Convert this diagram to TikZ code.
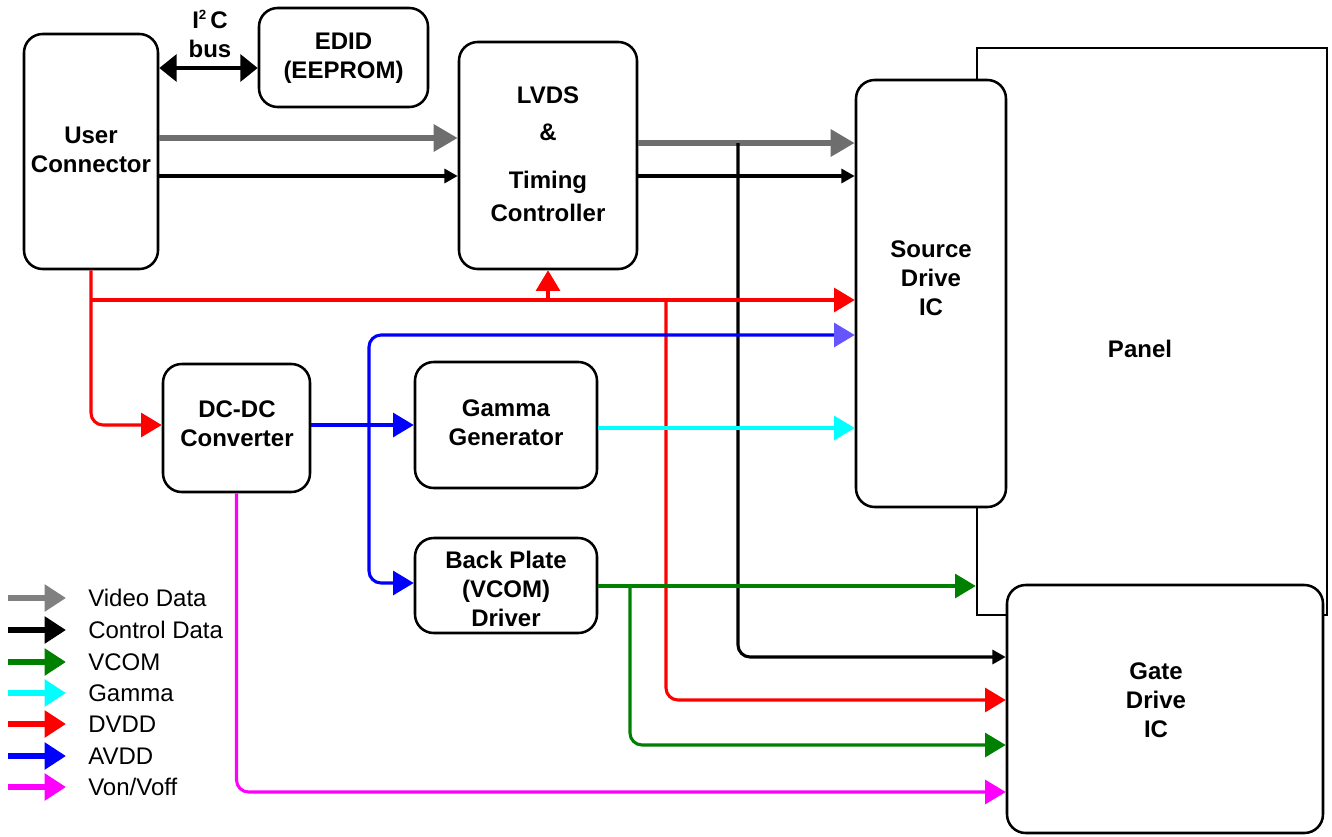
\documentclass[tikz,border=0pt]{standalone}
\usepackage{fontspec}
\setmainfont{Liberation Sans}
\usetikzlibrary{arrows.meta}
\definecolor{vgray}{RGB}{110,110,110}
\definecolor{lgray}{RGB}{128,128,128}
\definecolor{vgreen}{RGB}{0,128,0}
\definecolor{ablue}{RGB}{0,0,255}
\definecolor{srcblue}{RGB}{102,85,255}
\definecolor{vred}{RGB}{255,0,0}
\definecolor{vcyan}{RGB}{0,255,255}
\definecolor{vmag}{RGB}{255,0,255}
\begin{document}
\begin{tikzpicture}[x=0.75pt,y=-0.75pt,
 box/.style={draw, line width=1.9pt, rounded corners=14pt, fill=white, inner sep=0pt},
 lbl/.style={font=\bfseries\fontsize{18}{21.75}\selectfont, align=center, inner sep=0pt},
 lgt/.style={font=\fontsize{18}{21.75}\selectfont, anchor=base west, inner sep=0pt},
 wire/.style={line width=2.3pt, rounded corners=9pt, -{Triangle[length=15.5pt,width=18pt]}},
 ctrl/.style={line width=2.3pt, rounded corners=9pt, -{Triangle[length=10pt,width=10.5pt]}},
 video/.style={line width=4.5pt, draw=vgray, -{Triangle[length=18pt,width=19.5pt]}},
 legarrow/.style={line width=4.5pt, -{Triangle[length=16pt,width=19.5pt]}},
]
\useasboundingbox (0,0) rectangle (1332,836);

% Boxes
\node[box, sharp corners, minimum width=262.5pt, minimum height=425.25pt] (panel) at (1152,331.5) {};
\node[lbl] (panelT) at (1140,349) {Panel};
\node[box, minimum width=112.5pt, minimum height=320.25pt] (src) at (931,293.5) {};
\node[lbl] (srcT) at (931,278) {Source\\Drive\\IC};
\node[box, minimum width=237pt, minimum height=186pt] (gate) at (1165,709) {};
\node[lbl] (gateT) at (1156,700) {Gate\\Drive\\IC};
\node[box, minimum width=100.5pt, minimum height=176.25pt] (uc) at (91,151.5) {};
\node[lbl] (ucT) at (91,150) {User\\Connector};
\node[box, minimum width=126.75pt, minimum height=74.25pt] (edid) at (343.5,57.5) {};
\node[lbl] (edidT) at (343.5,58) {EDID\\(EEPROM)};
\node[box, minimum width=133.5pt, minimum height=170.25pt] (lvds) at (548,155.5) {};
\node[lbl] (lvdsT) at (548,154.5) {LVDS\\[6pt]\&\\[14pt]Timing\\[3pt]Controller};
\node[box, minimum width=110.25pt, minimum height=96pt] (dcdc) at (236.5,428) {};
\node[lbl] (dcdcT) at (237,423.5) {DC-DC\\Converter};
\node[box, minimum width=136.5pt, minimum height=94.5pt] (gamma) at (506,425) {};
\node[lbl] (gammaT) at (506,422.5) {Gamma\\Generator};
\node[box, minimum width=136.5pt, minimum height=71.25pt] (bp) at (506,585.5) {};
\node[lbl] (bpT) at (506,589) {Back Plate\\(VCOM)\\Driver};
\node[lbl] (i2c) at (210,34) {I\raisebox{0.35em}{\fontsize{10}{12}\selectfont 2}\,C\\bus};

% I2C bus
\draw[line width=3pt, {Triangle[length=13pt,width=20pt]}-{Triangle[length=13pt,width=20pt]}]
  (uc.east |- 0,68) -- (edid.west |- 0,68);

% video / control
\draw[video] (uc.east |- 0,138) -- (lvds.west |- 0,138);
\draw[ctrl] (uc.east |- 0,176) -- (lvds.west |- 0,176);
\draw[video] (lvds.east |- 0,143) -- (src.west |- 0,143);
\draw[ctrl] (lvds.east |- 0,176) -- (src.west |- 0,176);
\coordinate (jc) at (738,143);
\draw[ctrl] (jc) |- (gate.west |- 0,657);

% DVDD
\coordinate (jr) at (91,300);
\coordinate (jr2) at (666,300);
\draw[wire, vred] (uc.south) |- (dcdc.west |- 0,425);
\draw[wire, vred] (jr) -- (src.west |- 0,300);
\draw[wire, vred] (lvds.south |- jr) -- (lvds.south);
\draw[wire, vred] (jr2) |- (gate.west |- 0,700);

% AVDD
\coordinate (jb) at (369,425);
\draw[wire, ablue] (dcdc.east |- 0,425) -- (gamma.west |- 0,425);
\draw[line width=2.3pt, rounded corners=9pt, ablue, -{Triangle[length=15.5pt,width=18pt, color=srcblue]}] (jb) |- (src.west |- 0,335);
\draw[wire, ablue] (jb) |- (bp.west |- 0,583);

% Gamma
\draw[wire, vcyan] (gamma.east |- 0,428) -- (src.west |- 0,428);

% VCOM
\coordinate (jg) at (630,586);
\draw[wire, vgreen] (bp.east |- 0,586) -- (panel.west |- 0,586);
\draw[wire, vgreen] (jg) |- (gate.west |- 0,745);

% Von/Voff
\draw[wire, vmag] (dcdc.south) |- (gate.west |- 0,792);

% Legend
\foreach \y/\c/\t [count=\i] in {598/lgray/Video Data, 630/black/Control Data, 662/vgreen/VCOM, 693/vcyan/Gamma, 724/vred/DVDD, 756/ablue/AVDD, 787/vmag/Von\slash Voff} {
  \node[lgt] (leg\i) at (88,\y+8.5) {\t};
  \coordinate (la\i) at (8,\y);
  \coordinate (lb\i) at (66,\y);
  \draw[legarrow, \c] (la\i) -- (lb\i);
}
\end{tikzpicture}
\end{document}
